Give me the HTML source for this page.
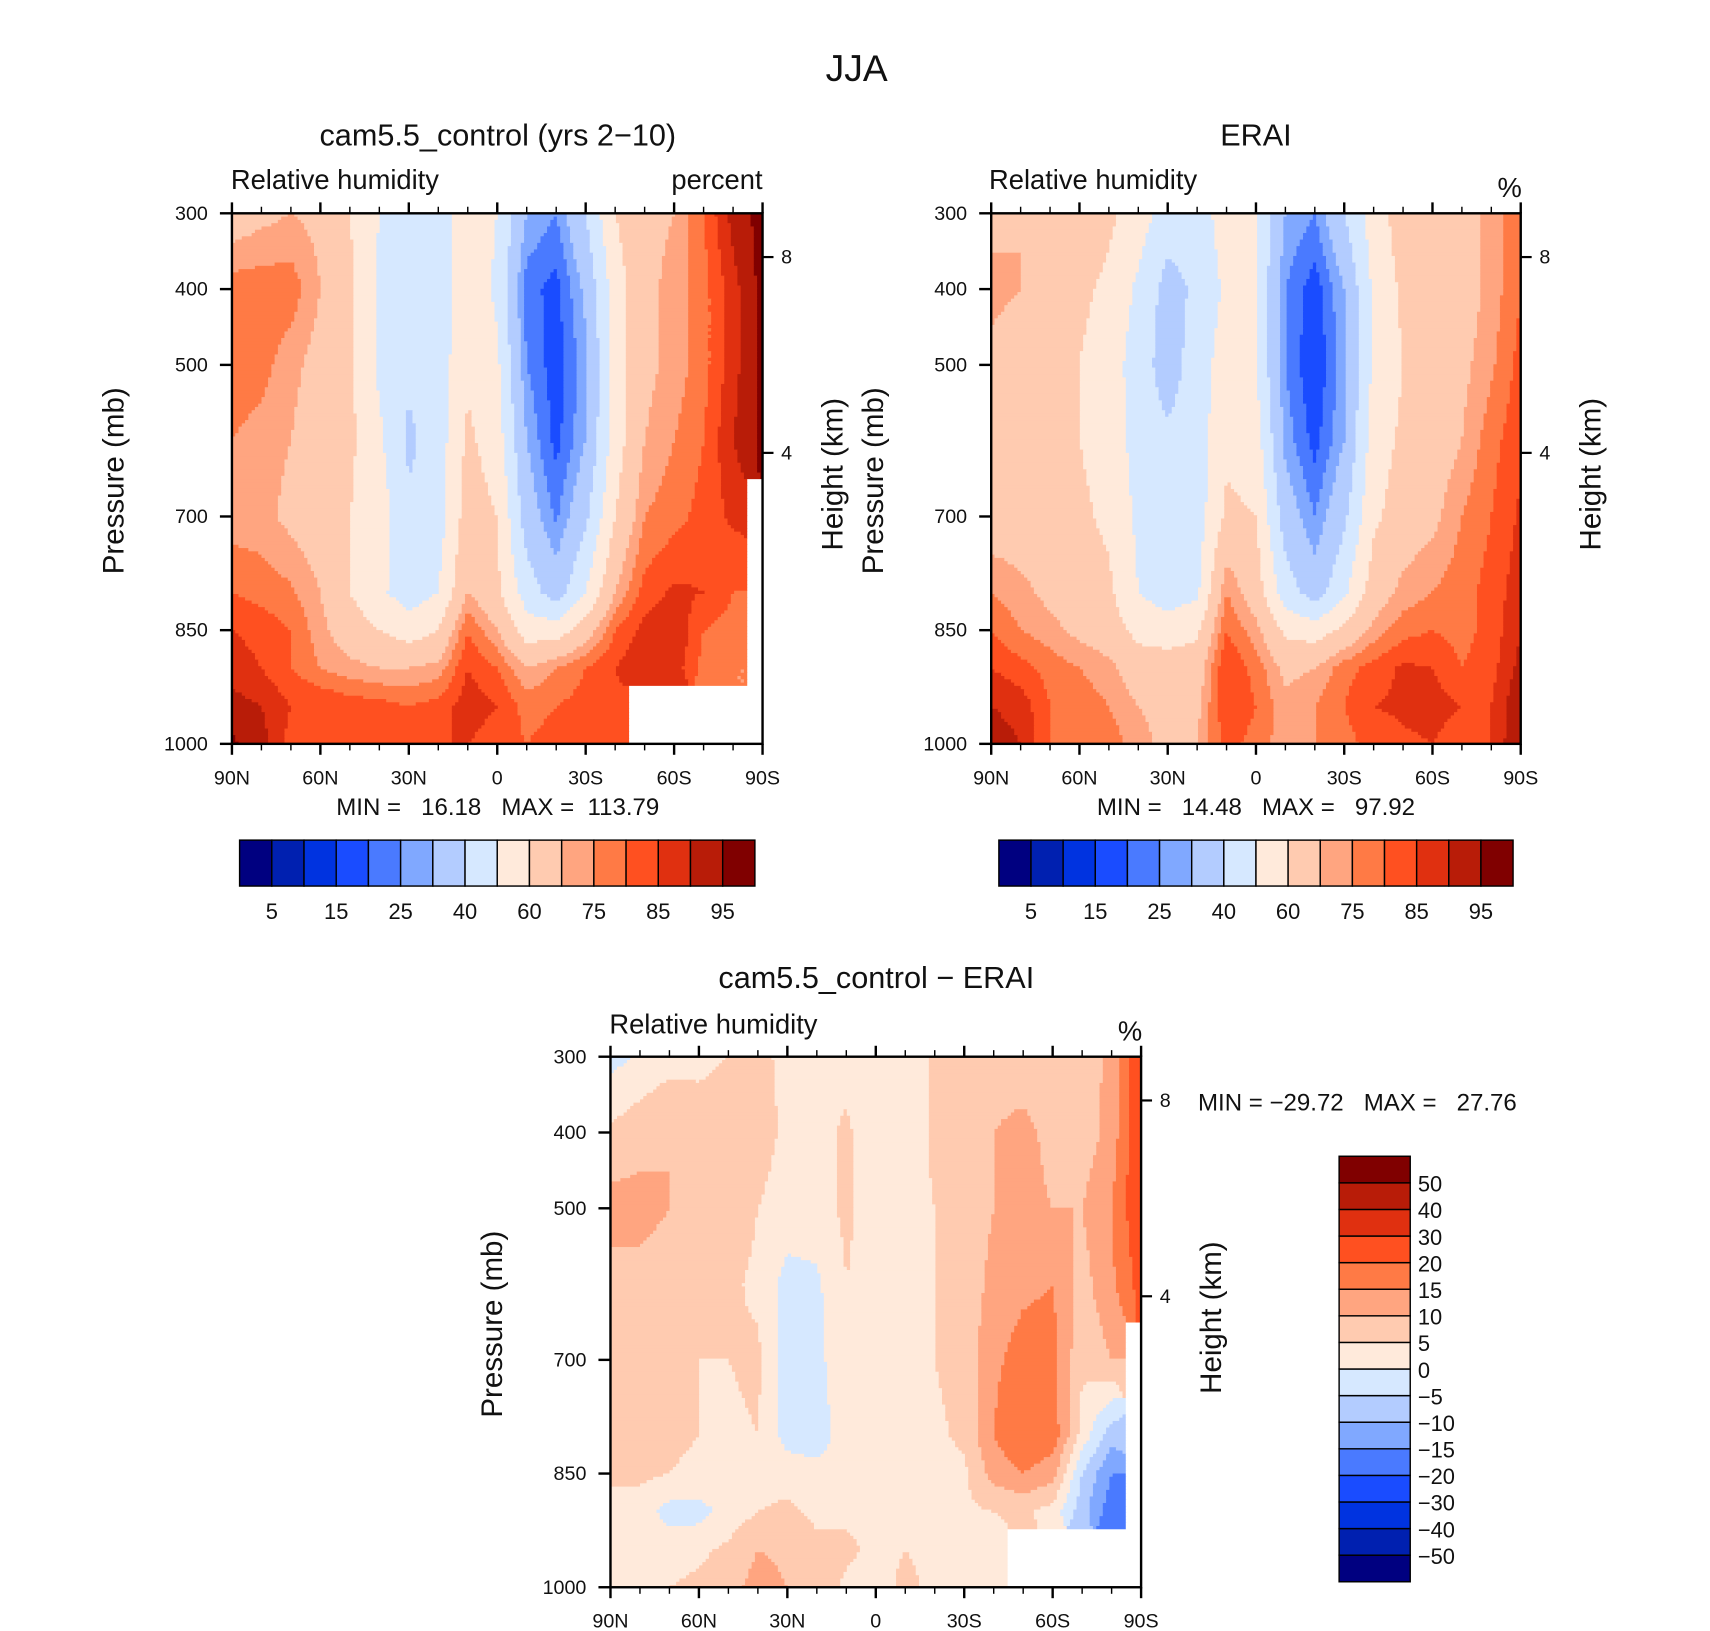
<!DOCTYPE html>
<html><head><meta charset="utf-8"><style>
html,body{margin:0;padding:0;background:#fff}
svg{display:block}
text{font-family:"Liberation Sans","DejaVu Sans",sans-serif;fill:#111}
</style></head><body>
<svg id="fig" xmlns="http://www.w3.org/2000/svg" width="1710" height="1631" viewBox="0 0 1563 1491" preserveAspectRatio="none">
<text x="783" y="74" font-size="34" text-anchor="middle">JJA</text>
</svg>
<script>
const lats=[90,80,70,60,50,40,30,20,10,0,-10,-20,-30,-40,-50,-60,-70,-80,-90];
const pLevels=[300,400,500,600,700,800,850,900,950,1000];
const N=null;
// rows = latitude (90N -> 90S), cols = pressure levels
const camRH=[
[65,78,78,75,72,80,85,88,92,96],
[68,78,77,73,72,78,83,85,90,92],
[70,78,72,70,68,76,80,80,85,83],
[68,70,67,65,65,70,72,75,85,85],
[60,62,62,62,60,60,65,72,83,85],
[50,48,48,52,55,52,60,70,82,85],
[45,40,42,38,42,45,55,70,80,85],
[45,42,45,45,45,50,60,72,82,85],
[55,58,58,62,65,70,80,85,88,85],
[50,48,52,55,60,62,70,80,85,82],
[30,22,25,30,35,45,55,70,78,80],
[25,18,17,18,24,35,55,75,80,82],
[40,32,28,30,38,50,65,80,82,82],
[60,55,55,55,60,70,80,85,83,82],
[68,68,68,70,75,82,87,90,N,N],
[70,72,72,75,78,86,90,88,N,N],
[80,78,78,80,82,85,80,78,N,N],
[92,88,88,90,86,80,78,75,N,N],
[97,97,97,96,N,N,N,N,N,N]];
const eraiRH=[
[68,72,68,65,65,75,80,85,90,93],
[70,70,65,63,65,72,75,82,88,90],
[68,65,63,62,63,68,72,78,80,80],
[66,62,60,60,62,65,68,75,78,80],
[62,58,55,56,58,62,65,72,75,78],
[55,48,45,46,48,50,57,65,70,72],
[45,36,35,42,45,45,55,65,68,68],
[45,42,45,45,45,48,58,65,68,70],
[55,52,55,58,62,75,80,85,85,82],
[50,50,50,55,60,65,72,78,80,78],
[30,25,25,28,35,45,58,68,72,72],
[25,17,15,18,25,35,55,70,75,75],
[40,30,28,30,38,48,62,78,80,78],
[55,52,52,55,58,65,72,82,85,82],
[65,62,60,62,65,72,78,86,86,84],
[65,65,65,65,68,75,80,85,87,85],
[66,66,68,70,75,78,78,80,85,82],
[72,72,74,78,80,82,82,83,85,85],
[80,80,82,84,86,88,90,92,95,96]];
const diffRH=[
[-2,6,12,8,7,5,5,5,4,3],
[1,8,12,8,6,6,6,3,3,4],
[3,10,10,7,6,6,5,-2,3,5],
[3,9,8,6,5,5,4,-2,4,6],
[5,10,8,6,5,4,4,2,6,8],
[6,7,5,4,6,5,3,5,10,12],
[4,4,3,-2,-3,-2,3,6,9,10],
[4,3,3,-1,-2,-3,2,4,6,9],
[3,6,6,5,5,3,3,4,6,4],
[2,1,2,3,3,2,2,3,4,3],
[2,2,3,3,3,4,3,4,5,6],
[6,6,5,5,5,4,3,3,4,4],
[7,8,6,6,7,6,4,4,3,4],
[7,10,10,12,14,15,12,5,3,3],
[6,12,12,14,17,20,15,6,N,N],
[5,8,10,15,17,18,12,3,N,N],
[6,7,10,8,6,3,-5,-8,N,N],
[12,12,15,14,10,-8,-15,-18,N,N],
[26,26,25,22,N,N,N,N,N,N]];
const rhLevels=[5,10,15,20,25,30,40,50,60,70,75,80,85,90,95];
const rhTickLabels=["5","15","25","40","60","75","85","95"];
const diffLevels=[-50,-40,-30,-20,-15,-10,-5,0,5,10,15,20,30,40,50];
const diffTickLabels=["50","40","30","20","15","10","5","0","\u22125","\u221210","\u221215","\u221220","\u221230","\u221240","\u221250"];
const latLabels=["90N","60N","30N","0","30S","60S","90S"];
const pTickLabels=[300,400,500,700,850,1000];
const kmTicks=[8,4];
const colors=["#000080","#0020b0","#0033e0","#1a4cff","#4a7aff","#80a8ff","#b3ccff","#d6e8ff","#ffeadb","#ffcbb0","#ffa580","#ff7a45","#ff5020","#e03010","#b81c08","#800000"];

const NS="http://www.w3.org/2000/svg";
const svg=document.getElementById('fig');
function mk(tag,attrs,parent){const e=document.createElementNS(NS,tag);for(const k in attrs)e.setAttribute(k,attrs[k]);(parent||svg).appendChild(e);return e;}
function txt(s,x,y,size,anchor,parent,rot){const t=mk('text',{x:x,y:y,'font-size':size,'text-anchor':anchor||'start'},parent);if(rot)t.setAttribute('transform','rotate(-90 '+x+' '+y+')');t.textContent=s;return t;}
function colorFor(v,levels){let i=0;while(i<levels.length&&v>=levels[i])i++;return colors[i];}

function sample(data,latV,p){
  let fi=(90-latV)/10; fi=Math.max(0,Math.min(lats.length-1,fi));
  let j=0; while(j<pLevels.length-2&&p>pLevels[j+1])j++;
  let fj=j+(p-pLevels[j])/(pLevels[j+1]-pLevels[j]); fj=Math.max(0,Math.min(pLevels.length-1,fj));
  const ni=Math.round(fi),nj=Math.round(fj);
  if(data[ni][nj]===null)return null;
  const i0=Math.floor(fi),i1=Math.min(lats.length-1,i0+1),j0=Math.floor(fj),j1=Math.min(pLevels.length-1,j0+1);
  const a=fi-i0,b=fj-j0;
  const g=(i,k)=>{const v=data[i][k];return v===null?data[ni][nj]:v;};
  return (1-a)*(1-b)*g(i0,j0)+a*(1-b)*g(i1,j0)+(1-a)*b*g(i0,j1)+a*b*g(i1,j1);
}

function panel(name,ox,oy,data,levels,W,H){
  const g=mk('g',{});
  
  
  const xOf=lat=>ox+(90-lat)/180*W;
  const yOf=p=>oy+(p-300)/700*H;
  const step=3;
  for(let py=0;py<H;py+=step){
    const p=300+Math.min(py+step/2,H)/H*700;
    let runStart=0,runCol=null;
    for(let px=0;px<W+step;px+=step){
      let col='end';
      if(px<W){const lat=90-Math.min(px+step/2,W)/W*180;const v=sample(data,lat,p);col=v===null?'#ffffff':colorFor(v,levels);}
      if(col!==runCol){
        if(runCol!==null){
          const r=mk('rect',{x:ox+runStart,y:oy+py,width:Math.min(px,W)-runStart+0.6,height:Math.min(step,H-py)+0.6,fill:runCol},g);
          
          
        }
        runStart=px;runCol=col;
      }
    }
  }
  mk('rect',{x:ox,y:oy,width:W,height:H,fill:'none',stroke:'#000','stroke-width':2.2},g);
  for(let lat=90;lat>=-90;lat-=10){
    const x=xOf(lat),major=lat%30===0,len=major?10:6;
    mk('line',{x1:x,y1:oy,x2:x,y2:oy-len,stroke:'#000','stroke-width':major?2.2:1.3},g);
    mk('line',{x1:x,y1:oy+H,x2:x,y2:oy+H+len,stroke:'#000','stroke-width':major?2.2:1.3},g);
  }
  latLabels.forEach((s,i)=>{const t=txt(s,ox+i*W/6,oy+H+37,18,'middle',g);});
  pTickLabels.forEach(p=>{const y=yOf(p);mk('line',{x1:ox,y1:y,x2:ox-11,y2:y,stroke:'#000','stroke-width':2.2},g);const t=txt(String(p),ox-22,y+6,18,'end',g);});
  kmTicks.forEach(k=>{const y=oy+(k===8?40:219)/485*H;mk('line',{x1:ox+W,y1:y,x2:ox+W+10,y2:y,stroke:'#000','stroke-width':2},g);const t=txt(String(k),ox+W+17,y+6,18,'start',g);});
  const a=txt('Pressure (mb)',ox-99,oy+H/2+2,27,'middle',g,true);
  const b=txt('Height (km)',ox+W+73,oy+H/2-4,27,'middle',g,true);
  return g;
}

panel('cam-panel',212,195,camRH,rhLevels,485,485);
panel('erai-panel',906,195,eraiRH,rhLevels,484,485);
panel('diff-panel',558,966,diffRH,diffLevels,485,485);

function label(s,x,y,size,anchor,name){const t=txt(s,x,y,size,anchor);t.setAttribute('xml:space','preserve');t.style.whiteSpace='pre';return t;}
label('cam5.5_control (yrs 2\u221210)',455,133,28,'middle','cam-title');
label('ERAI',1148,133,28,'middle','erai-title');
label('cam5.5_control \u2212 ERAI',801,903,28,'middle','diff-title');
label('Relative humidity',211,173,25,'start','cam-variable-label');
label('percent',697,173,25,'end','cam-units-label');
label('Relative humidity',904,173,25,'start','erai-variable-label');
label('%',1391,180,25,'end','erai-units-label');
label('Relative humidity',557,945,25,'start','diff-variable-label');
label('%',1044,951,25,'end','diff-units-label');
label('MIN =   16.18   MAX =  113.79',455,745,22,'middle','cam-min-max');
label('MIN =   14.48   MAX =   97.92',1148,745,22,'middle','erai-min-max');
label('MIN = \u221229.72   MAX =   27.76',1095,1015,22,'start','diff-min-max');

function hbar(name,x0,y0,w,h){
  const g=mk('g',{});
  const bw=w/colors.length;
  colors.forEach((c,i)=>{const r=mk('rect',{x:x0+i*bw,y:y0,width:bw,height:h,fill:c,stroke:'#000','stroke-width':1.3},g);});
  rhTickLabels.forEach((s,i)=>{const t=txt(s,x0+(2*i+1)*bw,y0+h+30,20,'middle',g);});
}
hbar('cam-colorbar',219,768,471,42);
hbar('erai-colorbar',913,768,470,42);
(function(){
  const x0=1224,y0=1057,w=65,h=389;
  const g=mk('g',{});
  const bh=h/colors.length;
  colors.forEach((c,i)=>{const r=mk('rect',{x:x0,y:y0+h-(i+1)*bh,width:w,height:bh,fill:c,stroke:'#000','stroke-width':1.3},g);});
  diffTickLabels.forEach((s,i)=>{const t=txt(s,x0+w+7,y0+(i+1)*bh+8,20,'start',g);});
})();
</script>
</body></html>
